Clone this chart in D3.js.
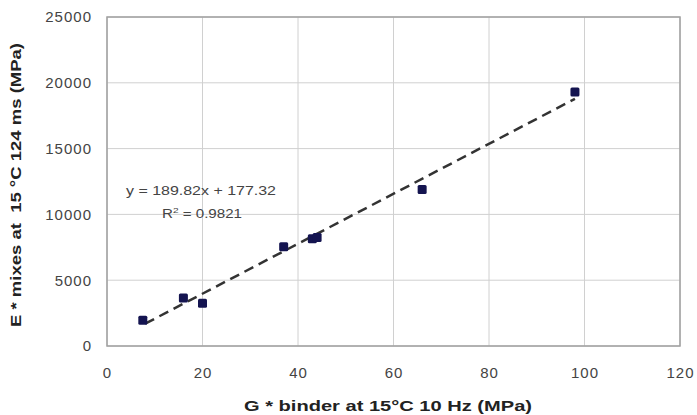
<!DOCTYPE html>
<html><head><meta charset="utf-8">
<script src="https://cdn.jsdelivr.net/npm/d3@7"></script>
<style>body{margin:0;background:#fff}svg{display:block}</style>
</head><body>
<script>
const binderG = [7.5, 16, 20, 37, 43, 44, 66, 98];
const mixE = [1950, 3650, 3250, 7550, 8150, 8250, 11900, 19300];
const xTicks = [0, 20, 40, 60, 80, 100, 120];
const yTicks = [0, 5000, 10000, 15000, 20000, 25000];
const slope = 189.82, intercept = 177.32;
const fitRange = [8, 98];
const eqText = "y = 189.82x + 177.32";
const r2Text = "0.9821";

const W = 697, H = 415;
const FONT = "Liberation Sans, Arial, sans-serif";
const svg = d3.select("body").append("svg").attr("width", W).attr("height", H);
const x = d3.scaleLinear().domain([0, 120]).range([107, 680]);
const y = d3.scaleLinear().domain([0, 25000]).range([346, 17]);

// grid
svg.append("g").selectAll("line").data(yTicks).join("line")
  .attr("x1", x(0)).attr("x2", x(120)).attr("y1", d => y(d)).attr("y2", d => y(d))
  .attr("stroke", "#d0d0d0").attr("stroke-width", 1);
svg.append("g").selectAll("line").data(xTicks).join("line")
  .attr("y1", y(0)).attr("y2", y(25000)).attr("x1", d => x(d)).attr("x2", d => x(d))
  .attr("stroke", "#d0d0d0").attr("stroke-width", 1);
svg.append("rect").attr("x", x(0)).attr("y", y(25000)).attr("width", x(120) - x(0)).attr("height", y(0) - y(25000))
  .attr("fill", "none").attr("stroke", "#a0a0a0").attr("stroke-width", 1.5);

// axes
const xAxis = svg.append("g").attr("transform", `translate(0,${y(0)})`)
  .call(d3.axisBottom(x).tickValues(xTicks).tickSize(0).tickPadding(21));
const yAxis = svg.append("g").attr("transform", `translate(${x(0)},0)`)
  .call(d3.axisLeft(y).tickValues(yTicks).tickSize(0).tickPadding(15).tickFormat(d3.format("d")));
[xAxis, yAxis].forEach(a => {
  a.select(".domain").remove();
  a.selectAll("text").attr("font-family", FONT).attr("font-size", 15).attr("fill", "#444")
    .attr("letter-spacing", 1);
});

// trendline
svg.append("line")
  .attr("x1", x(fitRange[0])).attr("y1", y(slope * fitRange[0] + intercept))
  .attr("x2", x(fitRange[1])).attr("y2", y(slope * fitRange[1] + intercept))
  .attr("stroke", "#333").attr("stroke-width", 2.5).attr("stroke-dasharray", "10,6");

// points
svg.append("g").selectAll("rect").data(binderG).join("rect")
  .attr("x", (d) => x(d) - 4.5).attr("y", (d, i) => y(mixE[i]) - 4.5)
  .attr("width", 9).attr("height", 9).attr("rx", 1.5).attr("fill", "#141450");

// equation
const eq = svg.append("g").attr("font-family", FONT).attr("font-size", 12).attr("fill", "#444");
eq.append("text").attr("x", 126).attr("y", 195).attr("textLength", 150).attr("lengthAdjust", "spacingAndGlyphs").text(eqText);
const r2 = eq.append("text").attr("x", 162).attr("y", 218).attr("textLength", 80).attr("lengthAdjust", "spacingAndGlyphs");
r2.append("tspan").text("R");
r2.append("tspan").attr("dy", -5).attr("font-size", 8).text("2");
r2.append("tspan").attr("dy", 5).text(" = " + r2Text);

// axis titles
svg.append("text").attr("x", 244).attr("y", 411)
  .attr("font-family", FONT).attr("font-size", 14).attr("font-weight", "bold").attr("fill", "#222")
  .attr("textLength", 288).attr("lengthAdjust", "spacingAndGlyphs")
  .text("G * binder at 15°C 10 Hz (MPa)");
svg.append("text").attr("transform", "translate(21,327) rotate(-90)")
  .attr("font-family", FONT).attr("font-size", 14).attr("font-weight", "bold").attr("fill", "#222")
  .attr("xml:space", "preserve").attr("textLength", 284).attr("lengthAdjust", "spacingAndGlyphs")
  .text("E * mixes at  15 °C 124 ms (MPa)");
</script>
</body></html>
